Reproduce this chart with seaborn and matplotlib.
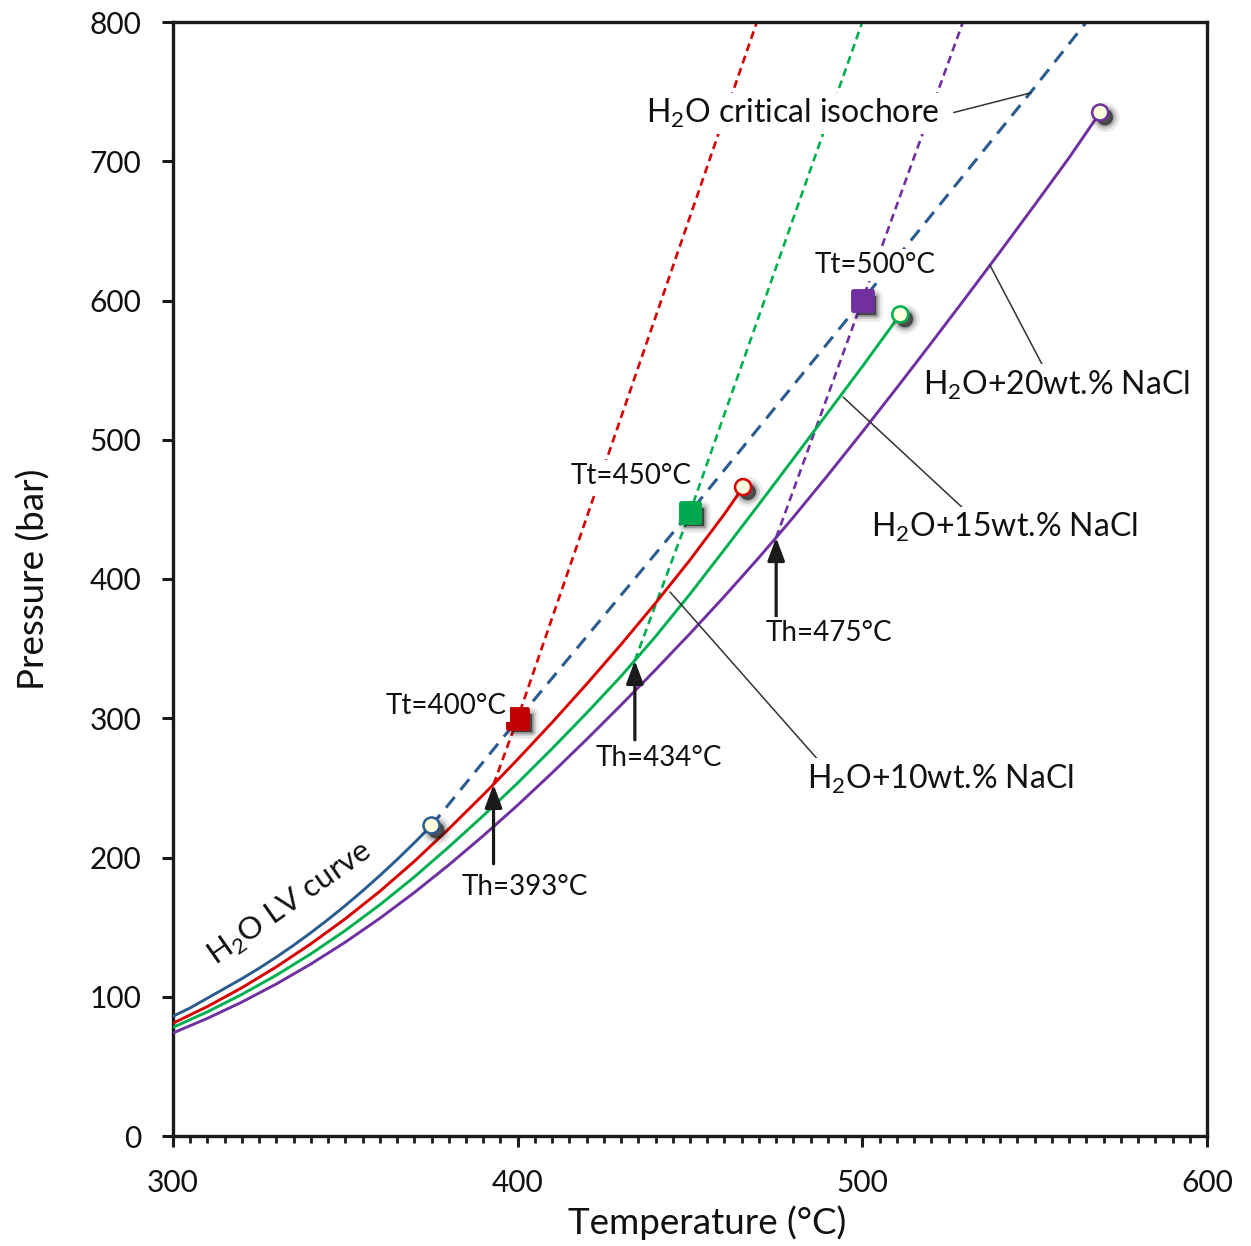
import matplotlib
matplotlib.use("Agg")
import matplotlib.pyplot as plt
import matplotlib.patheffects as pe
from matplotlib.markers import MarkerStyle
from matplotlib.ticker import MultipleLocator
import seaborn as sns

# ---- data -------------------------------------------------------------
# H2O liquid-vapour curve, ending at the critical point
lv_T = [300, 305, 310, 315, 320, 325, 330, 335, 340, 345, 350, 355, 360, 365, 370, 375]
lv_P = [86, 92, 99, 106, 113, 120.5, 128.5, 137, 146, 155.5, 165.5, 176, 187, 198.5, 210.5, 223]

# H2O critical isochore
crit_T = [375, 400, 450, 500, 549, 565]
crit_P = [223, 299, 448, 600, 750, 800]

# Liquid-vapour curves of NaCl solutions (end points = critical points)
nacl10_T = [300, 310, 320, 330, 340, 350, 360, 370, 380, 390, 393, 400, 410,
            420, 430, 440, 450, 460, 465.4]
nacl10_P = [81, 93, 106.5, 121.5, 138, 156, 175.7, 197.2, 220.5, 245, 252.5,
            270.5, 297, 324.5, 353, 382.7, 413.7, 446.7, 466]

nacl15_T = [300, 310, 320, 330, 340, 350, 360, 370, 380, 390, 400, 410, 420,
            430, 434, 440, 450, 460, 470, 480, 490, 500, 511]
nacl15_P = [78, 89.2, 101.7, 115.5, 130.8, 147.6, 166, 186, 207.5, 230, 253.5,
            278.2, 303.7, 330.2, 341.5, 358.7, 389.2, 421.2, 453.6, 486.4,
            519.4, 552.6, 590]

nacl20_T = [300, 310, 320, 330, 340, 350, 360, 370, 380, 390, 400, 410, 420,
            430, 440, 450, 460, 470, 475, 480, 490, 500, 510, 520, 530, 540,
            550, 560, 569]
nacl20_P = [74, 84.5, 96.2, 109.2, 123.5, 139.2, 156.3, 174.8, 194.6, 215.6,
            237.6, 260.8, 284.8, 309.5, 334.8, 360.8, 387.6, 415.4, 429.8,
            444.4, 474.6, 505.6, 537.3, 569.5, 602.1, 635.1, 668.6, 702.6, 735]

# Fluid-inclusion isochores: homogenisation (Th) -> trapping (Tt) -> upward
iso400_T = [393, 400, 469.4]
iso400_P = [252.5, 300, 800]
iso450_T = [434, 450, 500]
iso450_P = [341.5, 448, 800]
iso500_T = [475, 500, 529.2]
iso500_P = [429.8, 600, 800]

# Trapping conditions
tt_T = [400, 450, 500]
tt_P = [300, 448, 600]
tt_labels = ["Tt=400°C", "Tt=450°C", "Tt=500°C"]
th_labels = ["Th=393°C", "Th=434°C", "Th=475°C"]

x_ticks = [300, 400, 500, 600]
y_ticks = [0, 100, 200, 300, 400, 500, 600, 700, 800]

# ---- style ------------------------------------------------------------
sns.set_theme(style="white")
plt.rcParams["font.family"] = ["Lato", "DejaVu Sans"]
plt.rcParams["mathtext.fontset"] = "custom"
plt.rcParams["mathtext.rm"] = "Lato"

BLUE = "#2B5C8F"
RED_LINE = "#D80000"
RED_SQ = "#C00000"
GREEN_LINE = "#00B050"
GREEN_SQ = "#00A84F"
PURPLE = "#7030A0"
CREAM = "#FFFFE0"
INK = "#111111"

fig = plt.figure(figsize=(12.51, 12.46), dpi=100)
ax = fig.add_axes([173 / 1251, 1 - 1136 / 1246, (1207 - 173) / 1251, (1136 - 22) / 1246])

# soft drop shadow built from stacked translucent copies
shadow = [
    pe.SimplePatchShadow(offset=(3.4, -3.4), shadow_rgbFace="k", alpha=0.08,
                         foreground="k", linewidth=10),
    pe.SimplePatchShadow(offset=(3.4, -3.4), shadow_rgbFace="k", alpha=0.14,
                         foreground="k", linewidth=6),
    pe.SimplePatchShadow(offset=(3.4, -3.4), shadow_rgbFace="k", alpha=0.25,
                         foreground="k", linewidth=2.5),
    pe.SimplePatchShadow(offset=(3.4, -3.4), shadow_rgbFace="k", alpha=0.5),
    pe.Normal(),
]

long_dash = (0, (4.5, 3.0))
short_dash = (0, (3.0, 1.9))

# isochores (dashed)
sns.lineplot(x=crit_T, y=crit_P, ax=ax, color=BLUE, lw=2.2, linestyle=long_dash,
             estimator=None, sort=False, zorder=2)
for T, P, c in [(iso400_T, iso400_P, RED_LINE), (iso450_T, iso450_P, GREEN_LINE),
                (iso500_T, iso500_P, PURPLE)]:
    sns.lineplot(x=T, y=P, ax=ax, color=c, lw=1.9, linestyle=short_dash,
                 estimator=None, sort=False, zorder=2)

# liquid-vapour curves (solid)
curves = [(lv_T, lv_P, BLUE), (nacl10_T, nacl10_P, RED_LINE),
          (nacl15_T, nacl15_P, GREEN_LINE), (nacl20_T, nacl20_P, PURPLE)]
for T, P, c in curves:
    sns.lineplot(x=T, y=P, ax=ax, color=c, lw=2.1, estimator=None, sort=False,
                 zorder=3)

# critical points
for T, P, c in curves:
    ax.plot([T[-1]], [P[-1]], marker="o", ms=11.5, mfc=CREAM, mec=c, mew=1.8,
            linestyle="none", zorder=6, path_effects=shadow)

# trapping squares
sq = MarkerStyle("s", joinstyle="round")
for t, p, c in zip(tt_T, tt_P, [RED_SQ, GREEN_SQ, PURPLE]):
    ax.plot([t], [p], marker=sq, ms=13.5, mfc=c, mec=c, mew=3.5,
            linestyle="none", zorder=6, path_effects=shadow)

# homogenisation arrows
for iso_T, iso_P in [(iso400_T, iso400_P), (iso450_T, iso450_P), (iso500_T, iso500_P)]:
    ax.annotate("", xy=(iso_T[0], iso_P[0]), xytext=(iso_T[0], iso_P[0] - 57),
                arrowprops=dict(arrowstyle="-|>,head_length=0.7,head_width=0.26",
                                lw=2.3, color="k", shrinkA=0, shrinkB=0,
                                mutation_scale=20), zorder=7)

# ---- labels -----------------------------------------------------------
box = dict(boxstyle="square,pad=0.12", fc="white", ec="none")
lab = dict(fontsize=20, color=INK, ha="center", va="center", zorder=8, bbox=box)
big = dict(fontsize=23, color=INK, ha="center", va="center", zorder=8, bbox=box)

for txt, (x, y) in zip(tt_labels, [(379.2, 308.8), (432.9, 474), (503.7, 625.5)]):
    ax.text(x, y, txt, **lab)
for txt, (x, y) in zip(th_labels, [(402, 178.8), (441, 271.5), (490.3, 361.2)]):
    ax.text(x, y, txt, **lab)

ax.text(479.7, 734.6, r"H$_\mathregular{2}$O critical isochore", **big)
ax.text(556.3, 539.3, r"H$_\mathregular{2}$O+20wt.% NaCl", **big)
ax.text(541.1, 437.3, r"H$_\mathregular{2}$O+15wt.% NaCl", **big)
ax.text(522.8, 256.4, r"H$_\mathregular{2}$O+10wt.% NaCl", **big)
ax.text(334.0, 166.5, r"H$_\mathregular{2}$O LV curve", fontsize=22.5, color=INK,
        ha="center", va="center", rotation=35, rotation_mode="anchor", zorder=8)

# leader lines
leaders = [((526.5, 735.0), (549, 749.2)),
           ((444.2, 390.7), (487.7, 268.6)),
           ((494.4, 530.7), (529.8, 449.5)),
           ((537.0, 625.5), (553.3, 548.7))]
for (x0, y0), (x1, y1) in leaders:
    ax.plot([x0, x1], [y0, y1], color="#333333", lw=1.1, zorder=4)

# ---- axes -------------------------------------------------------------
ax.set_xlim(300, 600)
ax.set_ylim(0, 800)
ax.set_xticks(x_ticks)
ax.set_yticks(y_ticks)
ax.xaxis.set_minor_locator(MultipleLocator(5))
ax.tick_params(axis="both", which="major", direction="out", length=8, width=2.2,
               color="k", labelsize=21.5, labelcolor=INK)
ax.tick_params(axis="x", which="major", pad=16, bottom=True)
ax.tick_params(axis="y", which="major", pad=15, left=True)
ax.tick_params(axis="x", which="minor", direction="out", length=5, width=2.0,
               color="k", bottom=True)
for s in ax.spines.values():
    s.set_color("k")
    s.set_linewidth(2.4)

ax.set_xlabel("Temperature (°C)", fontsize=26.5, color=INK, labelpad=9)
ax.set_ylabel("Pressure (bar)", fontsize=26.5, color=INK, labelpad=28)
ax.xaxis.set_label_coords(0.517, -0.062)

fig.savefig("out.png", dpi=100)
